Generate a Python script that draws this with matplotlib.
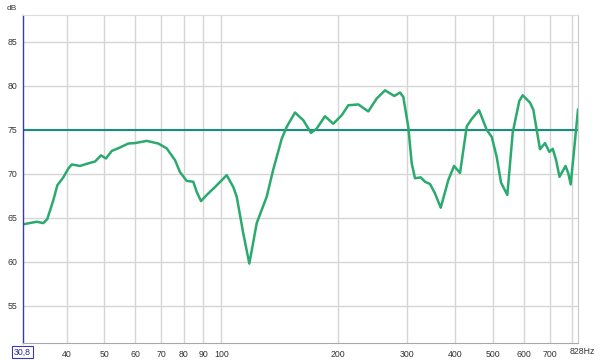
import matplotlib
matplotlib.use("Agg")
import matplotlib.pyplot as plt
from matplotlib.ticker import FixedLocator, NullLocator, NullFormatter

plt.rcParams["font.family"] = ["Liberation Sans", "DejaVu Sans"]

freq_hz = [30.8, 31.26, 33.5, 34.84, 35.67, 36.97, 37.86, 39.23, 40.41, 41.23,
           43.3, 45.5, 47.33, 49.04, 50.51, 52.25, 54.87, 57.64, 59.98, 64.29,
           68.87, 72.38, 76.03, 78.32, 81.49, 84.74, 86.46, 88.7, 91.74, 96.37,
           103.28, 107.4, 109.6, 113.97, 118.1, 123.4, 130.9, 136.1, 143.1, 147.4,
           154.8, 162.6, 170.2, 176.0, 184.9, 194.2, 204.2, 212.3, 225.3, 239.0,
           251.2, 263.9, 278.8, 288.4, 294.1, 302.9, 309.1, 315.2, 326.0, 334.4,
           344.5, 354.9, 367.1, 384.0, 397.2, 411.6, 428.3, 441.2, 460.7, 482.2,
           496.7, 511.6, 524.8, 544.7, 562.4, 584.8, 596.7, 623.1, 635.4, 648.3,
           661.1, 681.0, 698.6, 712.8, 726.9, 742.1, 769.0, 781.9, 793.0, 813.5, 828.0]
spl_db = [64.25, 64.3, 64.55, 64.4, 64.85, 67.0, 68.7, 69.6, 70.6, 71.07,
          70.9, 71.2, 71.4, 72.1, 71.75, 72.6, 73.0, 73.45, 73.5, 73.75,
          73.45, 72.9, 71.56, 70.2, 69.2, 69.1, 67.95, 66.9, 67.6, 68.5,
          69.85, 68.5, 67.4, 63.2, 59.8, 64.4, 67.4, 70.5, 74.0, 75.35,
          76.98, 76.1, 74.66, 75.15, 76.55, 75.7, 76.67, 77.8, 77.9, 77.1,
          78.57, 79.5, 78.86, 79.25, 78.75, 75.34, 71.2, 69.5, 69.6, 69.1,
          68.85, 67.77, 66.15, 69.3, 70.9, 70.1, 75.4, 76.25, 77.24, 75.0,
          74.2, 71.9, 69.0, 67.6, 74.7, 78.3, 78.94, 78.1, 77.3, 75.0,
          72.8, 73.5, 72.5, 72.85, 71.6, 69.66, 70.9, 70.05, 68.8, 73.8, 77.3]
target_db = 75
x_ticks = [40, 50, 60, 70, 80, 90, 100, 200, 300, 400, 500, 600, 700]
x_grid = [40, 50, 60, 70, 80, 90, 100, 200, 300, 400, 500, 600, 700, 800]
y_ticks = [55, 60, 65, 70, 75, 80, 85]
x_min, x_max = 30.8, 828.0
y_min, y_max = 50.76, 88.07
fs = 6.3

fig = plt.figure(figsize=(6, 3.6), dpi=100)
ax = fig.add_axes([22.5 / 600, 17 / 360, (578 - 22.5) / 600, (343 - 15) / 360])
ax.set_xscale("log")
ax.set_xlim(x_min, x_max)
ax.set_ylim(y_min, y_max)

for gx in x_grid:
    ax.axvline(gx, color="#d6d6d6", lw=1.0, zorder=1)
for gy in y_ticks:
    ax.axhline(gy, color="#d6d6d6", lw=1.0, zorder=1)

ax.axhline(target_db, color="#1a8c80", lw=1.5, zorder=3)
ax.plot(freq_hz, spl_db, color="#2aaa6e", lw=1.8, zorder=4, solid_joinstyle="round")

ax.xaxis.set_major_locator(FixedLocator(x_ticks))
ax.xaxis.set_minor_locator(NullLocator())
ax.xaxis.set_minor_formatter(NullFormatter())
ax.set_xticklabels([str(t) for t in x_ticks])
ax.yaxis.set_major_locator(FixedLocator(y_ticks))
ax.set_yticklabels([str(t) for t in y_ticks])
ax.tick_params(axis="both", length=0, labelsize=fs, colors="#333333")
ax.tick_params(axis="x", pad=5)
ax.tick_params(axis="y", pad=4)

ax.spines["left"].set_color("#3a3aa0")
ax.spines["left"].set_linewidth(1.0)
ax.spines["top"].set_color("#dcdcdc")
ax.spines["right"].set_color("#c8c8c8")
ax.spines["bottom"].set_color("#a8a8a8")
for s in ax.spines.values():
    s.set_zorder(5)

ax.annotate("828Hz", xy=(x_max, 0), xycoords=("data", "axes fraction"),
            xytext=(-8, -9), textcoords="offset pixels", ha="left", va="center",
            fontsize=fs, color="#333333")
ax.annotate("30,8", xy=(x_min, 0), xycoords=("data", "axes fraction"),
            xytext=(0, -9), textcoords="offset pixels", ha="center", va="center",
            fontsize=fs, color="#2a2a9a",
            bbox=dict(boxstyle="square,pad=0.2", fc="white", ec="#3a3aa0", lw=0.8))
fig.text(12 / 600, 1 - 8 / 360, "dB", fontsize=6, color="#333333", ha="center", va="center")

fig.savefig("out.png", dpi=100)
